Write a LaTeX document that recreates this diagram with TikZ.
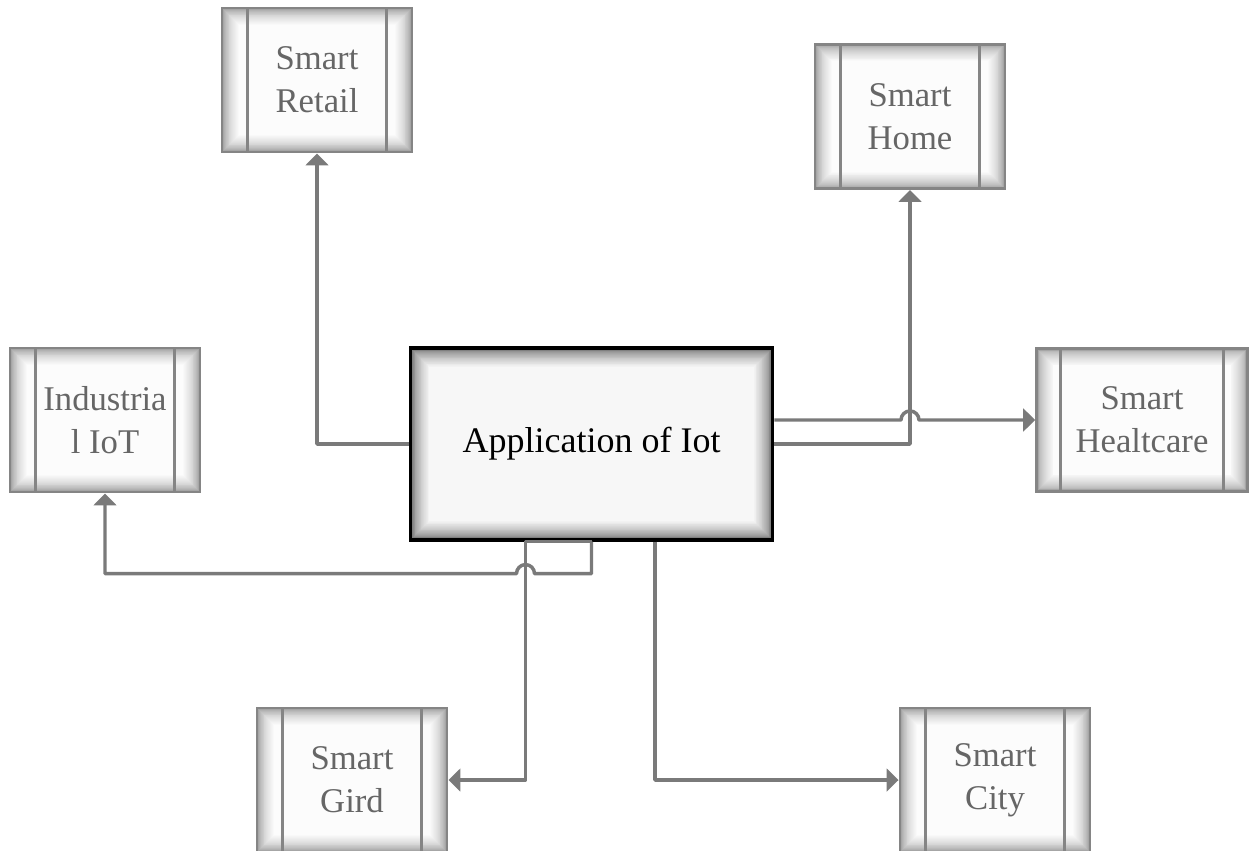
\documentclass[tikz,border=0pt]{standalone}
\usepackage{fontspec}
\setmainfont{Liberation Serif}
\usetikzlibrary{arrows.meta,calc}

\definecolor{boxgray}{HTML}{858585}
\definecolor{linegray}{HTML}{7A7A7A}
\definecolor{txtgray}{HTML}{666666}
\definecolor{panel}{HTML}{F8F8F8}
\definecolor{mainpanel}{HTML}{F4F4F4}

% soft inner shadow: nested opaque fills from the edge colour to the panel colour
% #1 panel colour, #2 edge colour, #3 number of steps, #4 step size
\newcommand\edgeglow[4]{%
  \foreach \k in {0,...,#3}{%
    \pgfmathtruncatemacro\glowp{100*sqrt(\k/#3)}%
    \pgfmathsetmacro\glowd{\k*#4}%
    \fill[#1!\glowp!#2]
      ([shift={(\glowd pt,-\glowd pt)}]path picture bounding box.north west) rectangle
      ([shift={(-\glowd pt,\glowd pt)}]path picture bounding box.south east);
  }}

\tikzset{
  appbox/.style={draw=boxgray, line width=2.2pt, fill=panel, text=txtgray,
    font=\fontsize{26}{32}\selectfont, align=center, inner sep=0pt,
    minimum width=142.5pt, minimum height=108pt,
    path picture={
      \edgeglow{panel}{black!45}{18}{0.7}
      \draw[boxgray, line width=2pt]
        ([xshift=#1]path picture bounding box.north west) --
        ([xshift=#1]path picture bounding box.south west);
      \draw[boxgray, line width=2pt]
        ([xshift=-#1]path picture bounding box.north east) --
        ([xshift=-#1]path picture bounding box.south east);
    }},
  appbox/.default=19pt,
  mainbox/.style={draw=black, line width=2.4pt, fill=mainpanel, text=black,
    font=\fontsize{27}{32}\selectfont, inner sep=0pt,
    minimum width=272pt, minimum height=144pt,
    path picture={\edgeglow{mainpanel}{black!70}{22}{0.65}}},
  conn/.style={draw=linegray, line width=2.6pt, line join=round},
  tip/.style={-{Triangle[length=9pt,width=17pt]}}
}

\begin{document}
\begin{tikzpicture}[x=0.75pt,y=-0.75pt]
  \useasboundingbox (0,0) rectangle (1249,850);

  % central block
  \node[mainbox] (app) at (591.5,444) {Application of Iot};

  % application areas
  \node[appbox] (retail) at (317,80) {Smart\\Retail};
  \node[appbox] (home) at (910,116.5) {Smart\\Home};
  \node[appbox] (ind) at (105,420) {Industria\\l IoT};
  \node[appbox=18pt, minimum width=158pt, minimum height=107pt] (health) at (1142,420) {Smart\\Healtcare};
  \node[appbox] (gird) at (352,780) {Smart\\Gird};
  \node[appbox] (city) at (995,780) {Smart\\City};

  % connectors
  \draw[conn,tip] (app.west) -| (retail.south);
  \draw[conn,tip] (app.east) -| (home.south);
  \draw[conn,tip] ([yshift=18pt]app.east) -- ($(home.south |- health.west)+(-9,0)$)
    arc[start angle=180, end angle=0, radius=6.75pt] -- (health.west);
  \draw[conn,tip] (app.south) -- ([xshift=-49.5pt]app.south) |- (gird.east);
  \draw[conn,tip] ([xshift=47.6pt]app.south) |- (city.west);
  \draw[conn,tip] (app.south) -- ++(0,32) -- ($(app.south)+(-57,32)$)
    arc[start angle=0, end angle=180, radius=6.75pt] -| (ind.south);
\end{tikzpicture}
\end{document}
